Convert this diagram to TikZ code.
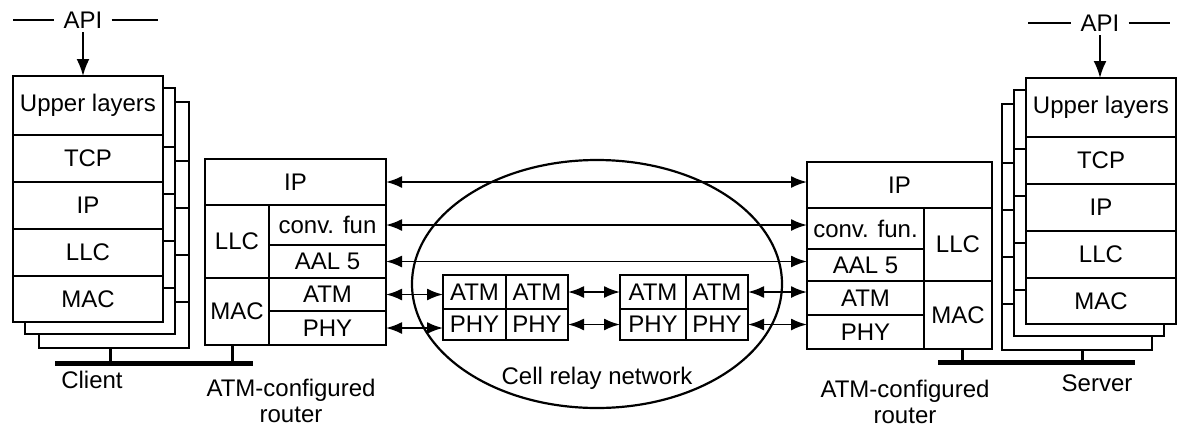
\documentclass[tikz,border=0pt]{standalone}
\usepackage{fontspec}
\setmainfont{Liberation Sans}
\usetikzlibrary{arrows.meta}
\tikzset{
 cell/.style={draw, fill=white, line width=2.1pt, inner sep=0pt, outer sep=0pt, anchor=north west, font=\fontsize{24}{28}\selectfont},
 lbl/.style={font=\fontsize{24}{26}\selectfont, inner sep=1pt, align=center},
 apilbl/.style={font=\fontsize{24}{28}\selectfont, inner xsep=9pt, inner ysep=4pt},
 link/.style={line width=1.9pt, {Latex[length=16pt,width=12pt]}-{Latex[length=16pt,width=12pt]}},
 bus/.style={line width=5pt},
 stubline/.style={line width=3pt},
 apiline/.style={line width=2pt},
 apiarrow/.style={line width=2pt, -{Latex[length=17pt,width=13pt]}},
 netline/.style={line width=2.2pt}
}
% #1 name prefix, #2 x, #3 y, #4..#8 layer texts
\newcommand\hoststack[8]{%
 \node[cell, minimum width=150pt, minimum height=59pt] (#1u) at (#2,#3) {#4};
 \node[cell, minimum width=150pt, minimum height=47pt] (#1t) at (#1u.south west) {#5};
 \node[cell, minimum width=150pt, minimum height=47pt] (#1i) at (#1t.south west) {#6};
 \node[cell, minimum width=150pt, minimum height=47pt] (#1l) at (#1i.south west) {#7};
 \node[cell, minimum width=150pt, minimum height=46pt] (#1m) at (#1l.south west) {#8};
}
\begin{document}
\begin{tikzpicture}[x=1pt,y=-1pt]
\useasboundingbox (0,0) rectangle (1178,429);

% ---- Client stack (back to front)
\hoststack{cb}{39}{102}{}{}{}{}{}
\hoststack{ca}{25}{88}{}{}{}{}{}
\hoststack{c}{13}{76}{Upper layers}{TCP}{IP}{LLC}{MAC}

% ---- Server stack (back to front)
\hoststack{sb}{1002}{104}{}{}{}{}{}
\hoststack{sa}{1014}{90}{}{}{}{}{}
\hoststack{s}{1026}{78}{Upper layers}{TCP}{IP}{LLC}{MAC}

% ---- API labels
\node[apilbl] (apiL) at (83,20) {API};
\coordinate (apiLa) at (13,20);
\coordinate (apiLb) at (158,20);
\draw[apiline] (apiLa) -- (apiL.west);
\draw[apiline] (apiL.east) -- (apiLb);
\draw[apiarrow] (apiL.south) -- (apiL.south |- cu.north);

\node[apilbl] (apiR) at (1100,23) {API};
\coordinate (apiRa) at (1028,23);
\coordinate (apiRb) at (1170,23);
\draw[apiline] (apiRa) -- (apiR.west);
\draw[apiline] (apiR.east) -- (apiRb);
\draw[apiarrow] (apiR.south) -- (apiR.south |- su.north);

% ---- Left router
\node[cell, minimum width=181pt, minimum height=46pt] (lip) at (205,159) {IP};
\node[cell, minimum width=64pt, minimum height=73pt] (lllc) at (lip.south west) {LLC};
\node[cell, minimum width=64pt, minimum height=67pt] (lmac) at (lllc.south west) {MAC};
\node[cell, minimum width=117pt, minimum height=40pt] (lconv) at (lllc.north east) {conv. fun};
\node[cell, minimum width=117pt, minimum height=33pt] (laal) at (lconv.south west) {AAL 5};
\node[cell, minimum width=117pt, minimum height=33pt] (latm) at (laal.south west) {ATM};
\node[cell, minimum width=117pt, minimum height=34pt] (lphy) at (latm.south west) {PHY};

% ---- Right router
\node[cell, minimum width=185pt, minimum height=46pt] (rip) at (807,162) {IP};
\node[cell, minimum width=117pt, minimum height=41pt] (rconv) at (rip.south west) {conv. fun.};
\node[cell, minimum width=117pt, minimum height=32pt] (raal) at (rconv.south west) {AAL 5};
\node[cell, minimum width=117pt, minimum height=34pt] (ratm) at (raal.south west) {ATM};
\node[cell, minimum width=117pt, minimum height=34pt] (rphy) at (ratm.south west) {PHY};
\node[cell, minimum width=68pt, minimum height=73pt] (rllc) at (rconv.north east) {LLC};
\node[cell, minimum width=68pt, minimum height=68pt] (rmac) at (rllc.south west) {MAC};

% ---- Cell relay network
\draw[netline] (597,284) ellipse [x radius=185pt, y radius=124pt];
\node[lbl] (netlbl) at (597,378) {Cell relay network};

\node[cell, minimum width=63pt, minimum height=34pt] (s1a) at (443,275) {ATM};
\node[cell, minimum width=62pt, minimum height=34pt] (s1b) at (s1a.north east) {ATM};
\node[cell, minimum width=63pt, minimum height=31pt] (s1p) at (s1a.south west) {PHY};
\node[cell, minimum width=62pt, minimum height=31pt] (s1q) at (s1b.south west) {PHY};

\node[cell, minimum width=66pt, minimum height=34pt] (s2a) at (620,275) {ATM};
\node[cell, minimum width=62pt, minimum height=34pt] (s2b) at (s2a.north east) {ATM};
\node[cell, minimum width=66pt, minimum height=31pt] (s2p) at (s2a.south west) {PHY};
\node[cell, minimum width=62pt, minimum height=31pt] (s2q) at (s2b.south west) {PHY};

% ---- Peer links
\draw[link] (lip.east) -- (lip.east -| rip.west);
\draw[link] (lconv.east) -- (lconv.east -| rconv.west);
\draw[link] (laal.east) -- (laal.east -| raal.west);
\draw[link] (latm.east) -- (latm.east -| s1a.west);
\draw[link] (s1b.east) -- (s1b.east -| s2a.west);
\draw[link] (s2b.east) -- (s2b.east -| ratm.west);
\draw[link] (lphy.east) -- (lphy.east -| s1p.west);
\draw[link] (s1q.east) -- (s1q.east -| s2p.west);
\draw[link] (s2q.east) -- (s2q.east -| rphy.west);

% ---- Buses
\coordinate (lbusA) at (55,363);
\coordinate (lbusB) at (253,363);
\coordinate (lstubC) at (110,363);
\coordinate (lstubR) at (232,363);
\draw[bus] (lbusA) -- (lbusB);
\draw[stubline] (cbm.south -| lstubC) -- (lstubC);
\draw[stubline] (lmac.south -| lstubR) -- (lstubR);

\coordinate (rbusA) at (938,362);
\coordinate (rbusB) at (1135,362);
\coordinate (rstubR) at (962,362);
\coordinate (rstubS) at (1082,362);
\draw[bus] (rbusA) -- (rbusB);
\draw[stubline] (rmac.south -| rstubR) -- (rstubR);
\draw[stubline] (sbm.south -| rstubS) -- (rstubS);

% ---- Labels
\node[lbl] (clientlbl) at (92,380) {Client};
\node[lbl] (lrlbl) at (291,401) {ATM-configured\\router};
\node[lbl] (rrlbl) at (905,402) {ATM-configured\\router};
\node[lbl] (serverlbl) at (1097,383) {Server};
\end{tikzpicture}
\end{document}
